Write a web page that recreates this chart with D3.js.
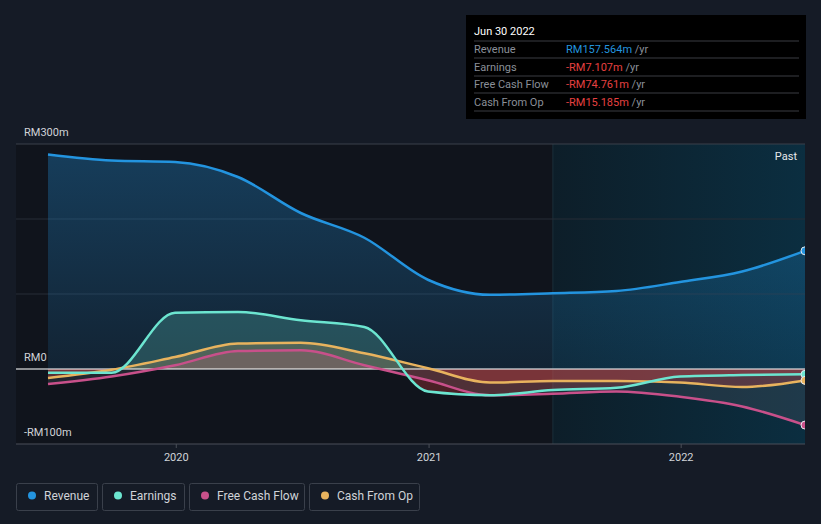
<!DOCTYPE html>
<html>
<head>
<meta charset="utf-8">
<script src="https://cdn.jsdelivr.net/npm/d3@7"></script>
<style>
  body { margin: 0; background: #151b26; font-family: Roboto, "Noto Sans", sans-serif; }
  svg { display: block; }
</style>
</head>
<body>
<script>
// quarterly values, RM millions
const dates = ['2019-06-30','2019-09-30','2019-12-31','2020-03-31','2020-06-30','2020-09-30',
  '2020-12-31','2021-03-31','2021-06-30','2021-09-30','2021-12-31','2022-03-31','2022-06-30'];
const revenue = [286, 278, 276, 256, 208, 175, 119, 99, 101, 104, 116, 130, 157.564];
const earnings = [-5, -5, 75, 76, 65, 56, -30, -35, -28, -25, -10, -8, -7.107];
const freeCashFlow = [-20, -10, 5, 24, 25, 5, -15, -35, -33, -30, -37, -50, -74.761];
const cashFromOp = [-12, -1, 16, 34, 35, 21, 1, -18, -16, -16, -18, -24, -15.185];
const yTicks = [-100, 0, 300];
const yTickLabels = ['-RM100m', 'RM0', 'RM300m'];
const xTicks = ['2020-01-01', '2021-01-01', '2022-01-01'];
const pastStart = '2021-06-30';

const series = [
  {name: 'Revenue', values: revenue, color: '#2394df', tip: 'RM157.564m'},
  {name: 'Earnings', values: earnings, color: '#6ce5d0', tip: '-RM7.107m'},
  {name: 'Free Cash Flow', values: freeCashFlow, color: '#c8508a', tip: '-RM74.761m'},
  {name: 'Cash From Op', values: cashFromOp, color: '#e8b35e', tip: '-RM15.185m'}
];

const W = 821, H = 524;
const plot = {left: 16, right: 805, top: 144, bottom: 444};
const parse = d3.utcParse('%Y-%m-%d');
const dts = dates.map(parse);

const x = d3.scaleUtc().domain(d3.extent(dts)).range([48, 805]);
const y = d3.scaleLinear().domain([-100, 300]).range([plot.bottom, plot.top]);

const svg = d3.select('body').append('svg').attr('width', W).attr('height', H);
const defs = svg.append('defs');

const pastGrad = defs.append('linearGradient').attr('id', 'pastGrad');
pastGrad.append('stop').attr('offset', '0%').attr('stop-color', '#0d1e29');
pastGrad.append('stop').attr('offset', '100%').attr('stop-color', '#0b2e40');

const revGrad = defs.append('linearGradient').attr('id', 'revGrad')
  .attr('x1', 0).attr('x2', 0).attr('y1', 0).attr('y2', 1);
revGrad.append('stop').attr('offset', '0%').attr('stop-color', '#2394df').attr('stop-opacity', 0.32);
revGrad.append('stop').attr('offset', '100%').attr('stop-color', '#2394df').attr('stop-opacity', 0.12);

// clips for positive / negative parts
defs.append('clipPath').attr('id', 'posClip').append('rect')
  .attr('x', 0).attr('y', 0).attr('width', W).attr('height', y(0));
defs.append('clipPath').attr('id', 'negClip').append('rect')
  .attr('x', 0).attr('y', y(0)).attr('width', W).attr('height', H - y(0));

// backgrounds
svg.append('rect').attr('x', plot.left).attr('y', plot.top)
  .attr('width', x(parse(pastStart)) - plot.left).attr('height', plot.bottom - plot.top)
  .attr('fill', '#10141c');
svg.append('rect').attr('x', x(parse(pastStart))).attr('y', plot.top)
  .attr('width', plot.right - x(parse(pastStart))).attr('height', plot.bottom - plot.top)
  .attr('fill', 'url(#pastGrad)');
svg.append('line').attr('x1', x(parse(pastStart))).attr('x2', x(parse(pastStart)))
  .attr('y1', plot.top).attr('y2', plot.bottom).attr('stroke', '#1b2f3b');

// grid
svg.append('g').selectAll('line').data([0, 100, 200, 300]).join('line')
  .attr('x1', plot.left).attr('x2', plot.right)
  .attr('y1', d => y(d)).attr('y2', d => y(d))
  .attr('stroke', d => d === 300 ? '#3b414b' : '#262d37');

svg.append('text').attr('x', 797).attr('y', 160).attr('text-anchor', 'end')
  .attr('fill', '#e6e8eb').attr('font-size', 11).text('Past');

// areas
const curve = d3.curveMonotoneX;
const area = vals => d3.area().curve(curve).x((d, i) => x(dts[i])).y0(y(0)).y1(d => y(d))(vals);
const line = vals => d3.line().curve(curve).x((d, i) => x(dts[i])).y(d => y(d))(vals);

svg.append('path').attr('d', area(revenue)).attr('fill', 'url(#revGrad)');

series.slice(1).forEach(s => {
  svg.append('path').attr('d', area(s.values)).attr('clip-path', 'url(#posClip)')
    .attr('fill', s.color).attr('fill-opacity', 0.22);
  svg.append('path').attr('d', area(s.values)).attr('clip-path', 'url(#negClip)')
    .attr('fill', s.name === 'Free Cash Flow' ? '#5a5f6a' : '#e64141')
    .attr('fill-opacity', s.name === 'Free Cash Flow' ? 0.25 : 0.28);
});

// zero line
svg.append('line').attr('x1', plot.left).attr('x2', plot.right)
  .attr('y1', y(0)).attr('y2', y(0)).attr('stroke', '#ffffff').attr('stroke-width', 1);

// lines
series.slice().reverse().forEach(s => {
  svg.append('path').attr('d', line(s.values)).attr('fill', 'none')
    .attr('stroke', s.color).attr('stroke-width', 2.5);
});

// end markers
svg.append('g').selectAll('circle').data(series).join('circle')
  .attr('cx', x(dts[dts.length - 1])).attr('cy', d => y(d.values[d.values.length - 1]))
  .attr('r', 4).attr('fill', d => d.color).attr('stroke', '#e8eaee').attr('stroke-width', 1);

// cover right overflow
svg.append('rect').attr('x', plot.right).attr('y', 130).attr('width', W - plot.right).attr('height', 330)
  .attr('fill', '#151b26');

// axes
const xaxis = d3.axisBottom(x).tickValues(xTicks.map(parse))
  .tickFormat(d3.utcFormat('%Y')).tickSize(4).tickPadding(5);
const gx = svg.append('g').attr('transform', `translate(0,${plot.bottom})`).call(xaxis);
gx.select('.domain').attr('d', `M${plot.left},0H${plot.right}`).attr('stroke', '#4a4f58');
gx.selectAll('.tick line').attr('stroke', '#4a4f58');
gx.selectAll('text').attr('fill', '#d0d3d8').attr('font-size', 11).attr('font-family', 'Roboto');

svg.append('g').selectAll('text').data(yTicks).join('text')
  .attr('x', 24).attr('y', d => y(d) - 8)
  .attr('fill', '#d0d3d8').attr('font-size', 11)
  .text((d, i) => yTickLabels[i]);

// tooltip
const tip = svg.append('g').attr('transform', 'translate(466,15)');
tip.append('rect').attr('width', 340).attr('height', 104).attr('fill', '#000000');
tip.append('text').attr('x', 8).attr('y', 20).attr('fill', '#ffffff').attr('font-size', 11).text('Jun 30 2022');
[26, 43, 61, 78, 96].forEach(yy => tip.append('line').attr('x1', 8).attr('x2', 333)
  .attr('y1', yy).attr('y2', yy).attr('stroke', '#3a3d43'));
series.forEach((s, i) => {
  const ty = 38 + i * 17.5;
  tip.append('text').attr('x', 8).attr('y', ty).attr('fill', '#8a8f98').attr('font-size', 11).text(s.name);
  const t = tip.append('text').attr('x', 100).attr('y', ty).attr('font-size', 11);
  t.append('tspan').attr('fill', i === 0 ? '#2394df' : '#e64141').text(s.tip);
  t.append('tspan').attr('fill', '#8a8f98').text(' /yr');
});

// legend
const legendW = [81, 82, 115, 110];
let lx = 16;
series.forEach((s, i) => {
  const g = svg.append('g').attr('transform', `translate(${lx},483)`);
  g.append('rect').attr('x', 0.5).attr('y', 0.5).attr('width', legendW[i]).attr('height', 27)
    .attr('rx', 2).attr('fill', 'none').attr('stroke', '#3a404b');
  g.append('circle').attr('cx', 16).attr('cy', 12.5).attr('r', 4).attr('fill', s.color);
  g.append('text').attr('x', 28).attr('y', 17).attr('fill', '#d0d3d8').attr('font-size', 12).text(s.name);
  lx += legendW[i] + 5;
});
</script>
</body>
</html>
